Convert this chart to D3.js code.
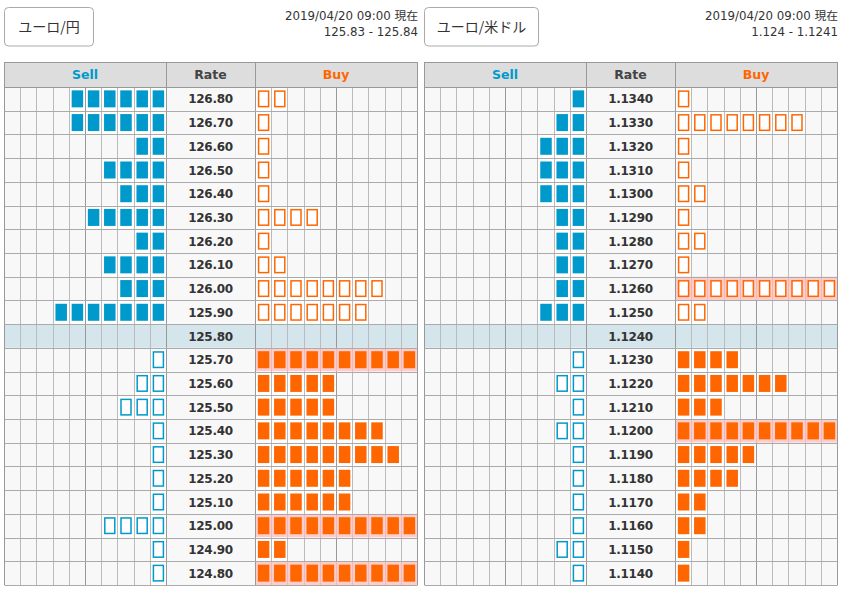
<!DOCTYPE html>
<html><head><meta charset="utf-8">
<script src="https://cdn.jsdelivr.net/npm/d3@7"></script>
<style>
body{margin:0;background:#fff;}
svg{display:block;}
</style></head>
<body>
<svg id="chart" width="843" height="589"></svg>
<script>
// ---- data ----
const jpyLabel = "ユーロ/円";
const jpyTime = "2019/04/20 09:00 現在";
const jpyQuote = "125.83 - 125.84";
const jpyRates = ["126.80","126.70","126.60","126.50","126.40","126.30","126.20","126.10","126.00","125.90","125.80","125.70","125.60","125.50","125.40","125.30","125.20","125.10","125.00","124.90","124.80"];
const jpySell = [6,6,2,4,3,5,2,4,3,7,0,1,2,3,1,1,1,1,4,1,1];
const jpyBuy  = [2,1,1,1,1,4,1,2,8,7,0,10,5,5,8,9,6,6,10,2,10];
const jpyMid = "125.80";

const usdLabel = "ユーロ/米ドル";
const usdTime = "2019/04/20 09:00 現在";
const usdQuote = "1.124 - 1.1241";
const usdRates = ["1.1340","1.1330","1.1320","1.1310","1.1300","1.1290","1.1280","1.1270","1.1260","1.1250","1.1240","1.1230","1.1220","1.1210","1.1200","1.1190","1.1180","1.1170","1.1160","1.1150","1.1140"];
const usdSell = [1,2,3,3,3,2,2,2,2,3,0,1,2,1,2,1,1,1,1,2,1];
const usdBuy  = [1,8,1,1,2,1,2,1,10,2,0,4,7,3,10,5,4,2,2,1,1];
const usdMid = "1.1240";

const headers = ["Sell","Rate","Buy"];
const maxCols = 10;

// ---- drawing ----
const svg = d3.select("#chart");
const BLUE = "#0099cc", ORANGE = "#ff6600";

function board(x0, label, time, quote, rates, sell, buy, mid, btnW){
  const g = svg.append("g").attr("transform", `translate(${x0},0)`);
  const sellX = d3.scaleBand().domain(d3.range(maxCols)).range([0,162]);
  const buyX = d3.scaleBand().domain(d3.range(maxCols)).range([251,413]);
  const y = d3.scaleBand().domain(rates).range([87,585]);
  const midIdx = rates.indexOf(mid);

  // button
  g.append("rect").attr("x",0.5).attr("y",7.5).attr("width",btnW).attr("height",38.5)
    .attr("rx",4).attr("fill","#fff").attr("stroke","#aaa");
  g.append("text").attr("x",0.5+btnW/2).attr("y",32).attr("text-anchor","middle")
    .attr("font-family","'Noto Sans CJK JP', sans-serif").attr("font-size",14).attr("fill","#333").text(label);
  g.append("text").attr("x",414).attr("y",20).attr("text-anchor","end")
    .attr("font-family","'DejaVu Sans', 'Noto Sans CJK JP', sans-serif").attr("font-size",11.8).attr("fill","#333").text(time);
  g.append("text").attr("x",414).attr("y",36).attr("text-anchor","end")
    .attr("font-family","'DejaVu Sans', 'Noto Sans CJK JP', sans-serif").attr("font-size",11.8).attr("fill","#333").text(quote);

  // header
  g.append("rect").attr("x",0.5).attr("y",62.5).attr("width",413).attr("height",24.5).attr("fill","#dddddd");
  const hx = [[0,162],[162,251],[251,413]];
  const hc = [BLUE,"#444",ORANGE];
  headers.forEach((h,i)=>{
    g.append("text").attr("x",(hx[i][0]+hx[i][1])/2).attr("y",79)
      .attr("text-anchor","middle").attr("font-family","'DejaVu Sans', Verdana, sans-serif")
      .attr("font-weight","bold").attr("font-size",12.5).attr("fill",hc[i]).text(h);
  });

  // row backgrounds
  rates.forEach((r,i)=>{
    const yy = y(r), hh = y.bandwidth();
    const isMid = i===midIdx;
    const baseFill = isMid ? "#d4e5eb" : "#f8f8f8";
    g.append("rect").attr("x",0.5).attr("y",yy).attr("width",413).attr("height",hh).attr("fill",baseFill);
    const sc = sell[i];
    for(let c=maxCols-sc;c<maxCols;c++){
      g.append("rect").attr("x",sellX(c)+0.5).attr("y",yy).attr("width",sellX.bandwidth()).attr("height",hh).attr("fill","#fff");
    }
    const bc = buy[i];
    const full = bc>=maxCols;
    if(full){
      g.append("rect").attr("x",buyX(0)+0.5).attr("y",yy).attr("width",162).attr("height",hh).attr("fill","#ffcccc");
    } else {
      for(let c=0;c<bc;c++){
        g.append("rect").attr("x",buyX(c)+0.5).attr("y",yy).attr("width",buyX.bandwidth()).attr("height",hh).attr("fill","#fff");
      }
    }
  });

  // grid lines
  const vLines = [];
  for(let c=0;c<=maxCols;c++){
    vLines.push({x:sellX(c===maxCols?maxCols-1:c)+(c===maxCols?sellX.bandwidth():0), dark:c%5===0});
    vLines.push({x:buyX(c===maxCols?maxCols-1:c)+(c===maxCols?buyX.bandwidth():0), dark:c%5===0});
  }
  vLines.forEach(v=>{
    const xx = Math.round(v.x)+0.5;
    g.append("line").attr("x1",xx).attr("x2",xx).attr("y1",87).attr("y2",585)
      .attr("stroke", v.dark ? "#999" : "#bbb").attr("stroke-width",1);
  });
  rates.forEach((r,i)=>{
    if(buy[i]>=maxCols){
      for(let c=1;c<maxCols;c++){
        const xx = Math.round(buyX(c))+0.5;
        g.append("line").attr("x1",xx).attr("x2",xx).attr("y1",y(r)).attr("y2",y(r)+y.bandwidth())
          .attr("stroke","#f0b8b8");
      }
    }
  });
  [0,162,251,413].forEach(xv=>{
    const xx = Math.round(xv)+0.5;
    g.append("line").attr("x1",xx).attr("x2",xx).attr("y1",62).attr("y2",87).attr("stroke","#999");
  });
  rates.concat([null]).forEach((r,i)=>{
    const yy = Math.round(r===null ? 585 : y(r))+0.5;
    g.append("line").attr("x1",0.5).attr("x2",413.5).attr("y1",yy).attr("y2",yy).attr("stroke","#aaa");
  });
  g.append("line").attr("x1",0.5).attr("x2",413.5).attr("y1",62.5).attr("y2",62.5).attr("stroke","#999");
  g.append("line").attr("x1",0.5).attr("x2",413.5).attr("y1",87.5).attr("y2",87.5).attr("stroke","#999");

  // rate labels
  rates.forEach((r,i)=>{
    g.append("text").attr("x",206.5).attr("y",y(r)+y.bandwidth()/2+4.5).attr("text-anchor","middle")
      .attr("font-family","'DejaVu Sans', Verdana, sans-serif").attr("font-weight","bold")
      .attr("font-size",12).attr("letter-spacing","-0.3").attr("fill","#333").text(r);
  });

  // boxes
  const bw = 11.5, bh = 17;
  rates.forEach((r,i)=>{
    const above = i < midIdx;
    const yy = y(r)+ (y.bandwidth()-bh)/2;
    for(let c=maxCols-sell[i];c<maxCols;c++){
      const xx = sellX(c)+0.5+(sellX.bandwidth()-bw)/2;
      if(above) g.append("rect").attr("x",xx).attr("y",yy).attr("width",bw).attr("height",bh).attr("fill",BLUE);
      else g.append("rect").attr("x",xx+0.75).attr("y",yy+0.75).attr("width",bw-1.5).attr("height",bh-1.5)
            .attr("fill","#fff").attr("stroke",BLUE).attr("stroke-width",1.5);
    }
    for(let c=0;c<buy[i];c++){
      const xx = buyX(c)+0.5+(buyX.bandwidth()-bw)/2;
      if(!above) g.append("rect").attr("x",xx).attr("y",yy).attr("width",bw).attr("height",bh).attr("fill",ORANGE);
      else g.append("rect").attr("x",xx+0.75).attr("y",yy+0.75).attr("width",bw-1.5).attr("height",bh-1.5)
            .attr("fill","#fff").attr("stroke",ORANGE).attr("stroke-width",1.5);
    }
  });
}

board(4, jpyLabel, jpyTime, jpyQuote, jpyRates, jpySell, jpyBuy, jpyMid, 89);
board(424, usdLabel, usdTime, usdQuote, usdRates, usdSell, usdBuy, usdMid, 114);
</script>
</body></html>
